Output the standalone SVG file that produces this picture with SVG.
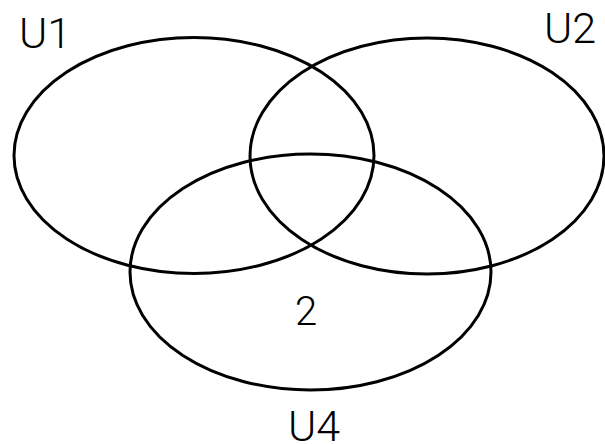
<svg xmlns="http://www.w3.org/2000/svg" width="605" height="444" viewBox="0 0 605 444">
<style>
.set{fill:none;stroke:#000;stroke-width:3}
.lbl{font-family:Roboto,"Liberation Sans",sans-serif;font-weight:300;fill:#000}
</style>
<rect width="605" height="444" fill="#fff"/>
<g id="U1">
<ellipse class="set" cx="194" cy="155.5" rx="180" ry="118"/>
<text class="lbl" x="19" y="48" font-size="43">U1</text>
</g>
<g id="U2">
<ellipse class="set" cx="427" cy="156" rx="177" ry="118"/>
<text class="lbl" x="544" y="42.5" font-size="43">U2</text>
</g>
<g id="U4">
<ellipse class="set" cx="310.5" cy="272" rx="180.5" ry="118"/>
<text class="lbl" x="288" y="441" font-size="43">U4</text>
<text class="lbl" x="306" y="324.5" font-size="40" text-anchor="middle">2</text>
</g>
<g id="connectors"/>
</svg>
